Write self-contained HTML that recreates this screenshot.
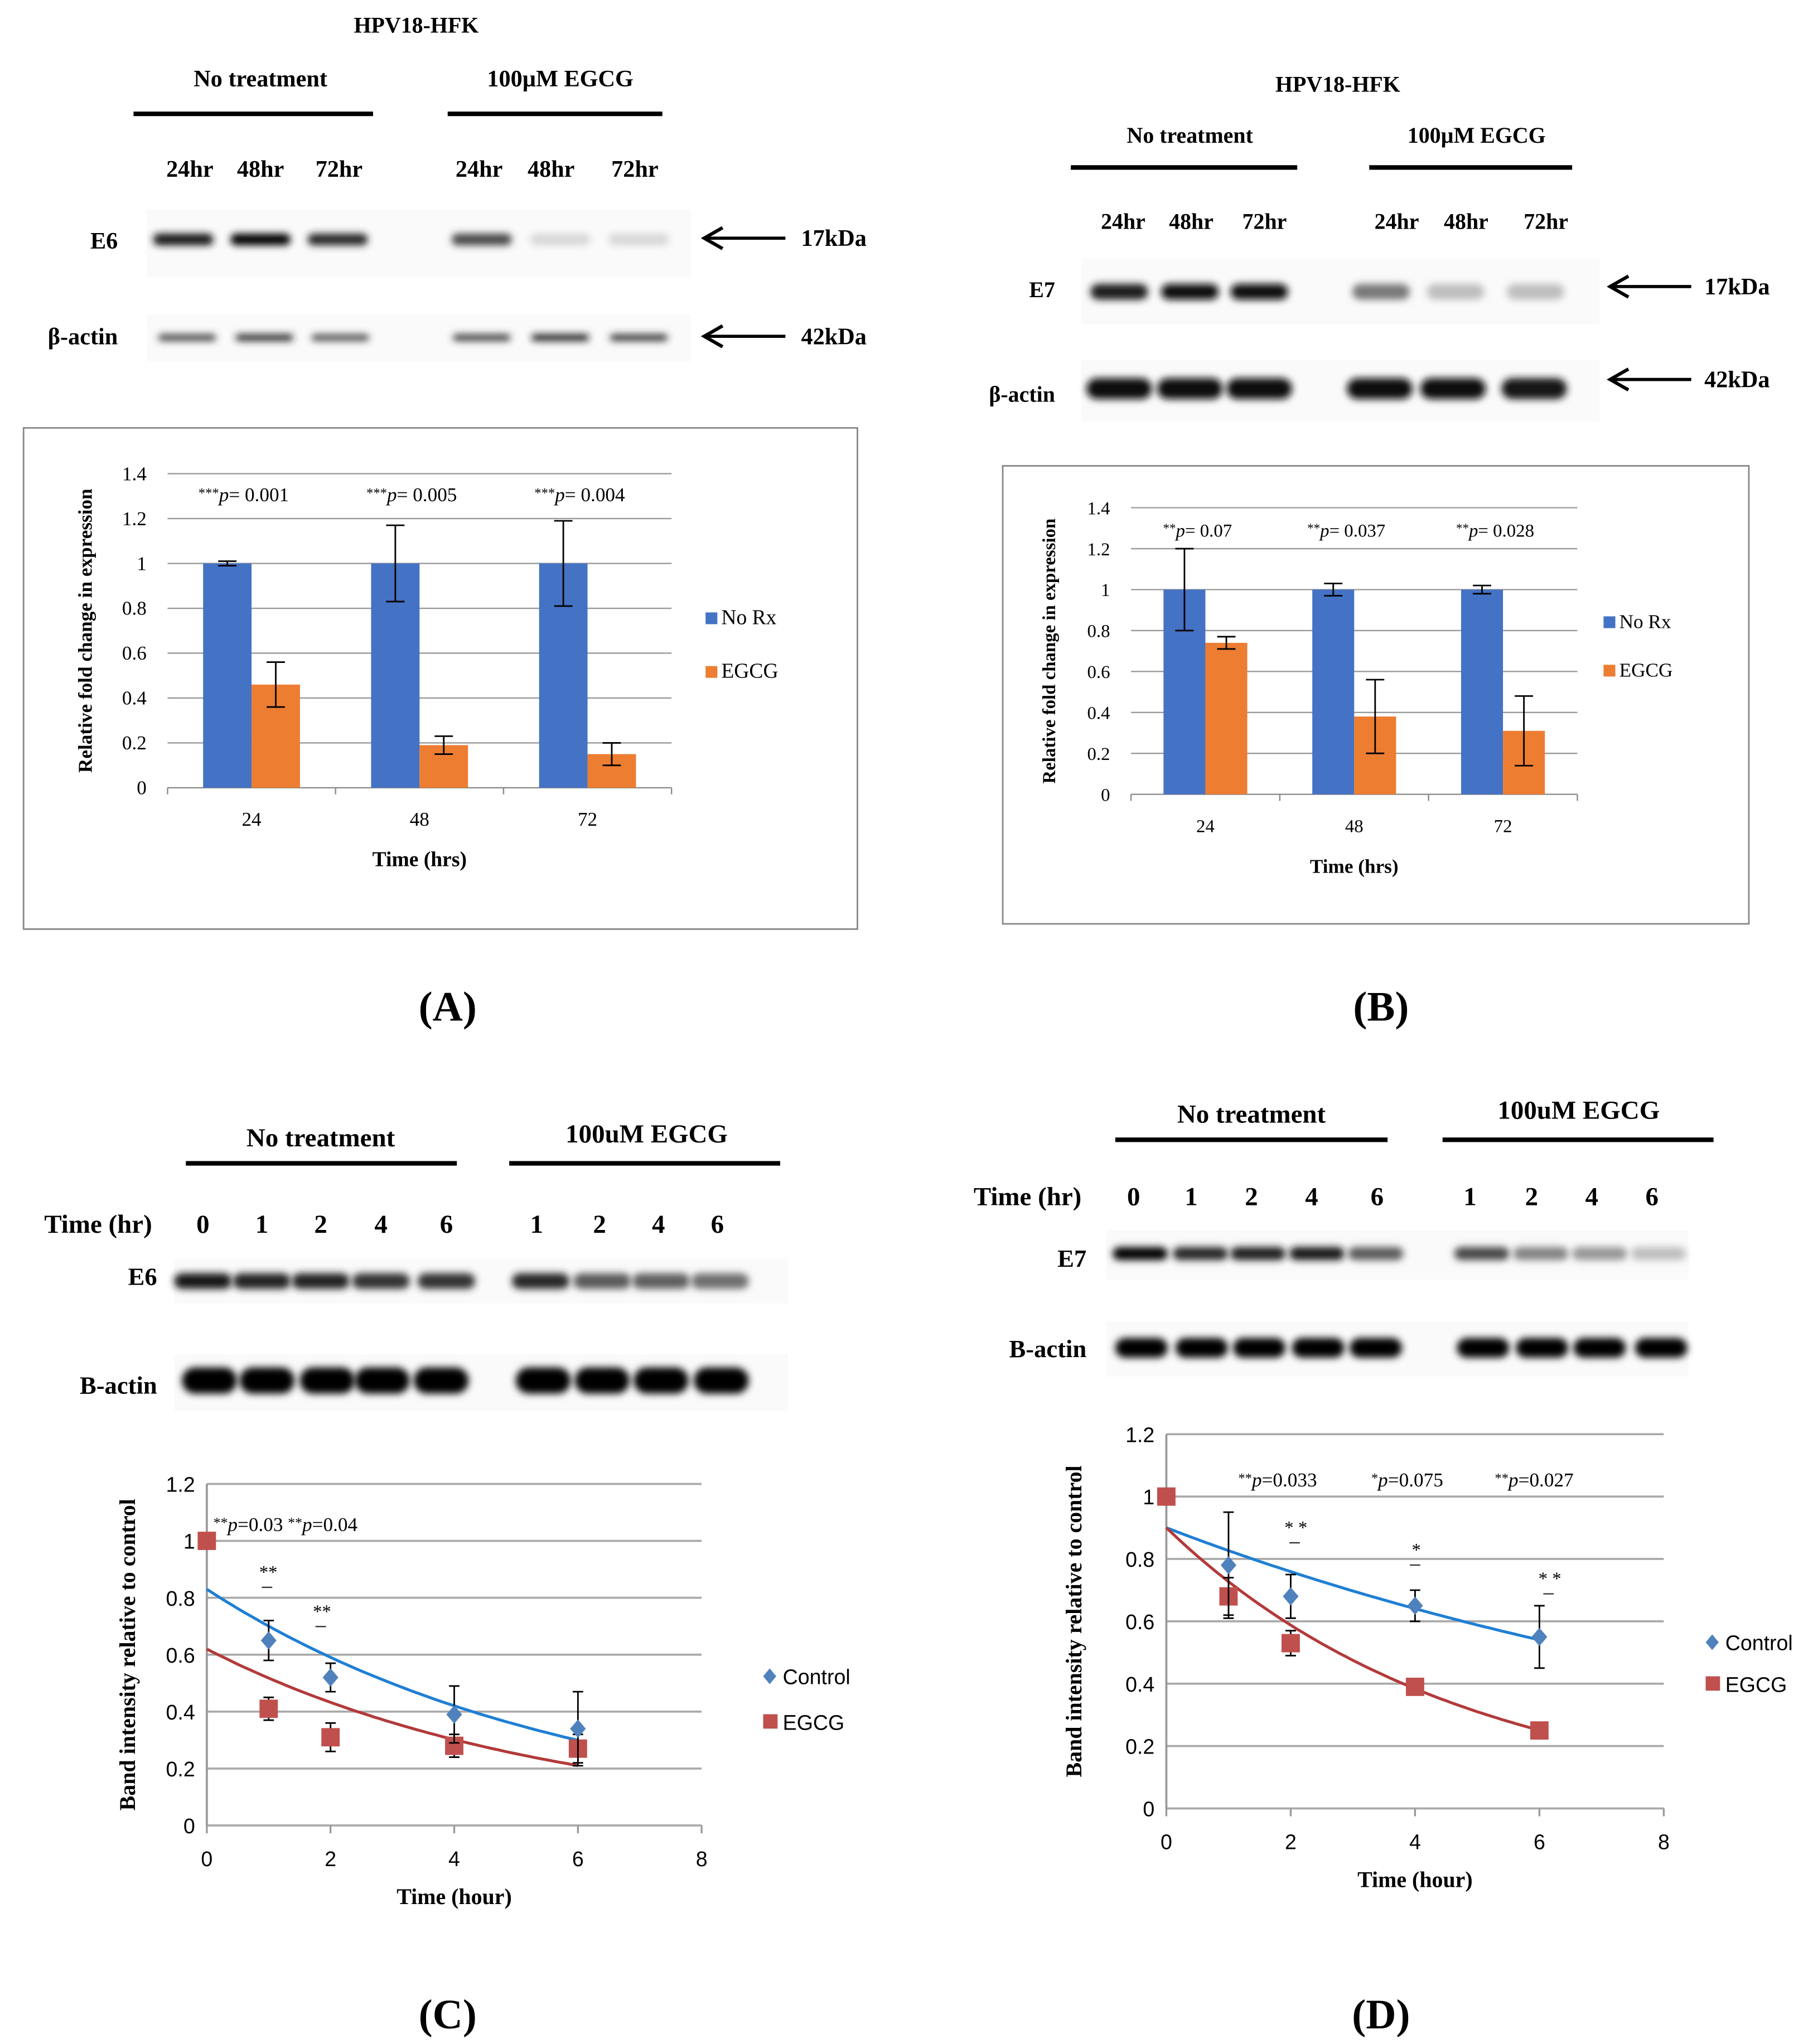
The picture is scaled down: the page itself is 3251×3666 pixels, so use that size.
<!DOCTYPE html>
<html><head><meta charset="utf-8">
<style>
html,body{margin:0;padding:0;background:#fff}
svg{display:block}
text{font-family:"Liberation Serif",serif;fill:#000}
</style></head>
<body>
<svg id="fig" width="3251" height="3666" viewBox="0 0 1385 1562" preserveAspectRatio="none" xmlns="http://www.w3.org/2000/svg">
<defs>
<filter id="blur" x="-30%" y="-150%" width="160%" height="400%"><feGaussianBlur stdDeviation="2.8"/></filter>
</defs>
<g id="root"></g>
</svg>
<script>
// ---------- Panel A data ----------
const aCats = ["24","48","72"];
const aNoRx = [1,1,1];
const aNoRxErr = [0.01,0.17,0.19];
const aEgcg = [0.46,0.19,0.15];
const aEgcgErr = [0.1,0.04,0.05];
const aP = ["0.001","0.005","0.004"];
const aTicks = [0,0.2,0.4,0.6,0.8,1,1.2,1.4];
// ---------- Panel B data ----------
const bCats = ["24","48","72"];
const bNoRx = [1,1,1];
const bNoRxErr = [0.2,0.03,0.02];
const bEgcg = [0.74,0.38,0.31];
const bEgcgErr = [0.03,0.18,0.17];
const bP = ["0.07","0.037","0.028"];
const bTicks = [0,0.2,0.4,0.6,0.8,1,1.2,1.4];
// ---------- Panel C data ----------
const cCtrlX = [1,2,4,6];
const cCtrlY = [0.65,0.52,0.39,0.34];
const cCtrlErr = [0.07,0.05,0.1,0.13];
const cEgcgX = [0,1,2,4,6];
const cEgcgY = [1,0.41,0.31,0.28,0.27];
const cEgcgErr = [0,0.04,0.05,0.04,0.05];
const cCtrlFit = [0.83,0.17];
const cEgcgFit = [0.62,0.18];
const cYTicks = [0,0.2,0.4,0.6,0.8,1,1.2];
const cXTicks = [0,2,4,6,8];
// ---------- Panel D data ----------
const dCtrlX = [1,2,4,6];
const dCtrlY = [0.78,0.68,0.65,0.55];
const dCtrlErr = [0.17,0.07,0.05,0.1];
const dEgcgX = [0,1,2,4,6];
const dEgcgY = [1,0.68,0.53,0.39,0.25];
const dEgcgErr = [0,0.06,0.04,0,0];
const dCtrlFit = [0.9,0.085];
const dEgcgFit = [0.9,0.213];
const dYTicks = [0,0.2,0.4,0.6,0.8,1,1.2];
const dXTicks = [0,2,4,6,8];

const NS="http://www.w3.org/2000/svg";
const root=document.getElementById('root');
function el(tag,attrs,parent,txt){const e=document.createElementNS(NS,tag);for(const k in attrs)e.setAttribute(k,attrs[k]);if(txt!==undefined)e.textContent=txt;(parent||root).appendChild(e);return e;}
function T(x,y,s,size,opt,name){opt=opt||{};const t=el('text',{x:x,y:y,'font-size':size,'text-anchor':opt.a||'middle'},opt.p,s);if(opt.b)t.setAttribute('font-weight','bold');if(opt.rot)t.setAttribute('transform','rotate(-90 '+x+' '+y+')');if(opt.fill)t.setAttribute('fill',opt.fill);if(opt.ff)t.setAttribute('style','font-family:'+opt.ff);


return t;}
function pLabel(x,y,stars,val,size,name){const t=el('text',{x:x,y:y,'font-size':size,'text-anchor':'middle'});


el('tspan',{'font-size':size*0.7,dy:-3},t,stars);el('tspan',{'font-style':'italic',dy:3},t,'p');el('tspan',{},t,val);return t;}
function blot(x0,x1,y0,y1,bands,y,w,h,name){const g=el('g',{});


el('rect',{x:x0,y:y0,width:x1-x0,height:y1-y0,fill:'#fafafa'},g);
bands.forEach(b=>{const r=el('rect',{x:b[0]-w/2,y:y-h/2,width:w,height:h,rx:h/2,fill:'rgb('+b[1]+','+b[1]+','+b[1]+')',filter:'url(#blur)'},g);


});}
function arrow(x0,x1,y,label,lx){const g=el('g',{});


el('line',{x1:x1,y1:y,x2:x0+2,y2:y,stroke:'#000','stroke-width':2.4},g);
el('path',{d:`M${x0+14},${y-8}L${x0},${y}L${x0+14},${y+8}`,fill:'none',stroke:'#000','stroke-width':2.6},g);
T(lx,y+6,label,18,{a:'start',b:true},'kda-label');}
function hbar(x0,x1,y){const l=el('line',{x1:x0,y1:y,x2:x1,y2:y,stroke:'#000','stroke-width':3.5});

}
function ebar(x,y1,y2,cap,col){el('line',{x1:x,y1:y1,x2:x,y2:y2,stroke:col||'#000','stroke-width':1.2});el('line',{x1:x-cap,y1:y1,x2:x+cap,y2:y1,stroke:col||'#000','stroke-width':1.2});el('line',{x1:x-cap,y1:y2,x2:x+cap,y2:y2,stroke:col||'#000','stroke-width':1.2});}

// ================= Panel A blots =================
T(318,25,'HPV18-HFK',17,{b:true},'blot-title');
T(199,66,'No treatment',18,{b:true},'group-label');
T(428,66,'100µM EGCG',18,{b:true},'group-label');
hbar(102,285,87);hbar(342,506,87);
[['24hr',145],['48hr',199],['72hr',259],['24hr',366],['48hr',421],['72hr',485]].forEach(d=>T(d[1],135,d[0],18,{b:true},'time-label'));
T(90,190,'E6',18,{b:true,a:'end'},'row-label');
blot(112,528,160,212,[[140,20],[199,5],[258,40],[368,70],[428,215],[488,215]],183,46,9,'e6-blot');
T(90,263,'β-actin',18,{b:true,a:'end'},'row-label');
blot(112,528,240,276,[[143,60],[202,35],[260,70],[368,55],[428,25],[488,45]],258,44,5,'actin-blot');
arrow(538,600,182,'17kDa',612);arrow(538,600,257,'42kDa',612);

// ================= Panel B blots =================
T(1022,70,'HPV18-HFK',17,{b:true},'blot-title');
T(909,109,'No treatment',17,{b:true},'group-label');
T(1128,109,'100µM EGCG',17,{b:true},'group-label');
hbar(818,991,128);hbar(1046,1201,128);
[['24hr',858],['48hr',910],['72hr',966],['24hr',1067],['48hr',1120],['72hr',1181]].forEach(d=>T(d[1],175,d[0],17,{b:true},'time-label'));
T(806,227,'E7',17,{b:true,a:'end'},'row-label');
blot(826,1222,198,248,[[855,30],[909,15],[962,10],[1055,120],[1112,190],[1173,190]],223,44,12,'e7-blot');
T(806,307,'β-actin',17,{b:true,a:'end'},'row-label');
blot(826,1222,275,322,[[855,10],[909,10],[962,15],[1054,15],[1110,15],[1172,20]],297,50,16,'actin-blot');
arrow(1230,1292,219,'17kDa',1302);arrow(1230,1292,290,'42kDa',1302);

// ================= Panel C blots =================
T(245,876,'No treatment',20,{b:true},'group-label');
T(494,873,'100uM EGCG',20,{b:true},'group-label');
hbar(142,349,889);hbar(389,596,889);
T(75,942,'Time (hr)',20,{b:true},'time-axis-label');
[['0',155],['1',200],['2',245],['4',291],['6',341],['1',410],['2',458],['4',503],['6',548]].forEach(d=>T(d[1],942,d[0],20,{b:true},'time-label'));
T(120,982,'E6',19,{b:true,a:'end'},'row-label');
blot(133,602,962,996,[[155,20],[200,35],[245,35],[291,50],[341,50],[413,40],[460,90],[505,95],[550,110]],979,44,12,'e6-blot');
T(120,1065,'B-actin',19,{b:true,a:'end'},'row-label');
blot(133,602,1035,1078,[[160,5],[204,5],[250,5],[292,5],[337,5],[415,5],[460,5],[505,5],[551,5]],1055,42,20,'actin-blot');

// ================= Panel D blots =================
T(956,858,'No treatment',20,{b:true},'group-label');
T(1206,855,'100uM EGCG',20,{b:true},'group-label');
hbar(852,1060,871);hbar(1102,1309,871);
T(785,921,'Time (hr)',20,{b:true},'time-axis-label');
[['0',866],['1',910],['2',956],['4',1002],['6',1052],['1',1123],['2',1170],['4',1216],['6',1262]].forEach(d=>T(d[1],921,d[0],20,{b:true},'time-label'));
T(830,968,'E7',19,{b:true,a:'end'},'row-label');
blot(845,1290,940,978,[[871,5],[917,40],[961,30],[1006,20],[1051,90],[1132,70],[1177,130],[1222,150],[1267,190]],958,42,10,'e7-blot');
T(830,1037,'B-actin',19,{b:true,a:'end'},'row-label');
blot(845,1290,1010,1052,[[872,5],[918,5],[962,5],[1007,5],[1051,5],[1133,5],[1178,5],[1222,5],[1269,5]],1030,40,15,'actin-blot');

// ================= Bar chart helper =================
function barChart(o){
  el('rect',{x:o.box[0],y:o.box[1],width:o.box[2]-o.box[0],height:o.box[3]-o.box[1],fill:'none',stroke:'#888','stroke-width':1.2});
  const ys=v=>o.y0-(v/1.4)*(o.y0-o.y1);
  o.ticks.forEach(t=>{if(t>0){const g=el('line',{x1:o.x0,y1:ys(t),x2:o.x1,y2:ys(t),stroke:'#999','stroke-width':1});
    
    }
    T(o.x0-16,ys(t)+5,String(t),o.fs,{a:'end'},'y-tick-label');});
  const n=o.cats.length, cw=(o.x1-o.x0)/n;
  el('line',{x1:o.x0,y1:o.y0,x2:o.x1,y2:o.y0,stroke:'#888','stroke-width':1});
  for(let i=0;i<=n;i++)el('line',{x1:o.x0+i*cw,y1:o.y0,x2:o.x0+i*cw,y2:o.y0+5,stroke:'#888','stroke-width':1});
  o.cats.forEach((c,i)=>{const cx=o.x0+cw*(i+0.5);
    const r1=el('rect',{x:cx-o.bw,y:ys(o.s1[i]),width:o.bw,height:o.y0-ys(o.s1[i]),fill:'#4472c4'});
    
    
    const r2=el('rect',{x:cx,y:ys(o.s2[i]),width:o.bw,height:o.y0-ys(o.s2[i]),fill:'#ed7d31'});
    
    
    ebar(cx-o.bw/2,ys(o.s1[i]+o.e1[i]),ys(o.s1[i]-o.e1[i]),7);
    ebar(cx+o.bw/2,ys(o.s2[i]+o.e2[i]),ys(o.s2[i]-o.e2[i]),7);
    T(cx,o.y0+29,c,o.fs,{},'x-tick-label');
    pLabel(cx-6,o.py,o.stars,'= '+o.p[i],o.fs,'p-value-label');
  });
  T(o.ylx,(o.y0+o.y1)/2,'Relative fold change in expression',o.fs,{b:true,rot:true},'y-axis-title');
  T((o.x0+o.x1)/2,o.y0+60,'Time (hrs)',o.fs+1,{b:true},'x-axis-title');
  const l1=el('rect',{x:o.lx,y:o.ly1-9,width:9,height:9,fill:'#4472c4'});
  
  
  T(o.lx+12,o.ly1,'No Rx',o.fs+1,{a:'start'},'legend-label');
  const l2=el('rect',{x:o.lx,y:o.ly2-9,width:9,height:9,fill:'#ed7d31'});
  
  
  T(o.lx+12,o.ly2,'EGCG',o.fs+1,{a:'start'},'legend-label');
}
barChart({box:[18,327,655,710],x0:128,x1:513,y0:602,y1:362,ticks:aTicks,cats:aCats,s1:aNoRx,e1:aNoRxErr,s2:aEgcg,e2:aEgcgErr,p:aP,stars:'***',bw:37,fs:15,py:383,ylx:70,lx:539,ly1:477,ly2:518});
barChart({box:[766,356,1336,706],x0:864,x1:1205,y0:607,y1:388,ticks:bTicks,cats:bCats,s1:bNoRx,e1:bNoRxErr,s2:bEgcg,e2:bEgcgErr,p:bP,stars:'**',bw:32,fs:14,py:410,ylx:806,lx:1225,ly1:480,ly2:517});

// ================= Line chart helper =================
function lineChart(o){
  const xs=v=>o.x0+(v/8)*(o.x1-o.x0), ys=v=>o.y0-(v/1.2)*(o.y0-o.y1);
  o.yt.forEach(t=>{const g=el('line',{x1:o.x0,y1:ys(t),x2:o.x1,y2:ys(t),stroke:'#aaa','stroke-width':1.6});
    
    
    T(o.x0-9,ys(t)+6,String(t),16,{a:'end',ff:'"Liberation Sans",sans-serif',fill:'#333'},'y-tick-label');});
  el('line',{x1:o.x0,y1:o.y0,x2:o.x0,y2:o.y1,stroke:'#999','stroke-width':1.6});
  o.xt.forEach(t=>{el('line',{x1:xs(t),y1:o.y0,x2:xs(t),y2:o.y0+6,stroke:'#999','stroke-width':1.4});
    T(xs(t),o.y0+31,String(t),16,{ff:'"Liberation Sans",sans-serif',fill:'#333'},'x-tick-label');});
  function fit(f,col,name){let d='';for(let i=0;i<=60;i++){const t=6*i/60;d+=(i?'L':'M')+xs(t).toFixed(1)+','+ys(f[0]*Math.exp(-f[1]*t)).toFixed(1);}
    const p=el('path',{d:d,fill:'none',stroke:col,'stroke-width':2.2});
    
    }
  fit(o.cf,'#1f7fd4','control-trendline');fit(o.ef,'#b33a3a','egcg-trendline');
  o.ex.forEach((x,i)=>{if(o.ee[i]>0)ebar(xs(x),ys(o.ey[i]+o.ee[i]),ys(o.ey[i]-o.ee[i]),4);
    const r=el('rect',{x:xs(x)-7,y:ys(o.ey[i])-7,width:14,height:14,fill:'#c0504d'});
    
    });
  o.cx.forEach((x,i)=>{ebar(xs(x),ys(o.cy[i]+o.ce[i]),ys(o.cy[i]-o.ce[i]),4);
    const X=xs(x),Y=ys(o.cy[i]);
    const p=el('path',{d:`M${X},${Y-7}L${X+6},${Y}L${X},${Y+7}L${X-6},${Y}Z`,fill:'#4f81bd'});
    
    });
  T(o.ylx,(o.y0+o.y1)/2,'Band intensity relative to control',17,{b:true,rot:true},'y-axis-title');
  T((o.x0+o.x1)/2,o.y0+60,'Time (hour)',17,{b:true},'x-axis-title');
  const X=o.lx,Y=o.ly1;
  const ld=el('path',{d:`M${X},${Y-6}L${X+5},${Y}L${X},${Y+6}L${X-5},${Y}Z`,fill:'#4f81bd'});
  
  
  T(X+10,Y+6,'Control',16,{a:'start',ff:'"Liberation Sans",sans-serif',fill:'#333'},'legend-label');
  const ls=el('rect',{x:X-5,y:o.ly2-6,width:11,height:11,fill:'#c0504d'});
  
  
  T(X+10,o.ly2+6,'EGCG',16,{a:'start',ff:'"Liberation Sans",sans-serif',fill:'#333'},'legend-label');
}
lineChart({x0:158,x1:536,y0:1395,y1:1134,yt:cYTicks,xt:cXTicks,cx:cCtrlX,cy:cCtrlY,ce:cCtrlErr,ex:cEgcgX,ey:cEgcgY,ee:cEgcgErr,cf:cCtrlFit,ef:cEgcgFit,ylx:103,lx:588,ly1:1281,ly2:1316});
lineChart({x0:891,x1:1271,y0:1382,y1:1096,yt:dYTicks,xt:dXTicks,cx:dCtrlX,cy:dCtrlY,ce:dCtrlErr,ex:dEgcgX,ey:dEgcgY,ee:dEgcgErr,cf:dCtrlFit,ef:dEgcgFit,ylx:826,lx:1308,ly1:1255,ly2:1287});

// significance annotations
(function(){const t=el('text',{x:163,y:1170,'font-size':15,'text-anchor':'start'});


el('tspan',{'font-size':11,dy:-3},t,'**');el('tspan',{'font-style':'italic',dy:3},t,'p');el('tspan',{},t,'=0.03 ');el('tspan',{'font-size':11,dy:-3},t,'**');el('tspan',{'font-style':'italic',dy:3},t,'p');el('tspan',{},t,'=0.04');})();
pLabel(976,1136,'**','=0.033',15,'p-value-label');
pLabel(1075,1136,'*','=0.075',15,'p-value-label');
pLabel(1172,1136,'**','=0.027',15,'p-value-label');
[[205,1206,'**'],[246,1236,'**'],[990,1172,'* *'],[1082,1189,'*'],[1184,1211,'* *']].forEach(s=>{T(s[0],s[1],s[2],14,{},'significance-stars');el('line',{x1:s[0]-5,y1:s[1]+7,x2:s[0]+3,y2:s[1]+7,stroke:'#333','stroke-width':1});});

// panel labels
T(342,780,'(A)',32,{b:true},'panel-label-a');
T(1055,780,'(B)',32,{b:true},'panel-label-b');
T(342,1550,'(C)',32,{b:true},'panel-label-c');
T(1055,1550,'(D)',32,{b:true},'panel-label-d');
</script>
</body></html>
